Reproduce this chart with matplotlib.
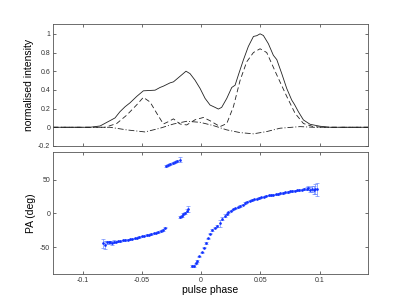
import numpy as np
import matplotlib
matplotlib.use("Agg")
import matplotlib.pyplot as plt

plt.rcParams['font.family'] = ['Liberation Sans', 'DejaVu Sans']

# total intensity (solid)
i_phase = [-0.125, -0.0937, -0.0852, -0.0768, -0.0726, -0.0684, -0.0641, -0.0599, -0.0543,
           -0.0487, -0.0388, -0.0346, -0.0318, -0.0262, -0.0233, -0.0177, -0.0127, -0.0093,
           -0.0051, -0.0008, 0.0034, 0.0076, 0.0118, 0.0146, 0.0174, 0.0217, 0.0259, 0.0287,
           0.0315, 0.0357, 0.0399, 0.0442, 0.047, 0.0498, 0.0526, 0.0568, 0.061, 0.0639,
           0.0681, 0.0723, 0.0765, 0.0788, 0.0821, 0.0864, 0.092, 0.1004, 0.1089, 0.141]
i_val = [0.0, 0.0, 0.014, 0.071, 0.10, 0.167, 0.22, 0.262, 0.33,
         0.39, 0.397, 0.426, 0.44, 0.475, 0.486, 0.546, 0.60, 0.574,
         0.504, 0.415, 0.309, 0.238, 0.213, 0.195, 0.213, 0.309, 0.426, 0.45,
         0.56, 0.72, 0.865, 0.972, 0.98, 1.0, 0.982, 0.894, 0.77, 0.724,
         0.574, 0.415, 0.291, 0.245, 0.167, 0.078, 0.032, 0.011, 0.0, 0.0]

# linear polarisation (dashed)
l_phase = [-0.125, -0.081, -0.0712, -0.0627, -0.0543, -0.0487, -0.043, -0.0374, -0.0318,
           -0.0276, -0.0233, -0.0177, -0.0121, -0.0051, 0.002, 0.0076, 0.016, 0.0217,
           0.0273, 0.0329, 0.0385, 0.0442, 0.0498, 0.0554, 0.0639, 0.0723, 0.0793,
           0.0864, 0.0948, 0.103, 0.141]
l_val = [0.0, 0.0, 0.04, 0.13, 0.24, 0.32, 0.27, 0.15, 0.035,
         0.06, 0.09, 0.035, 0.025, 0.08, 0.105, 0.07, 0.007, 0.04,
         0.22, 0.50, 0.70, 0.80, 0.84, 0.80, 0.56, 0.33, 0.15,
         0.04, 0.007, 0.0, 0.0]

# circular polarisation (dash-dot)
v_phase = [-0.125, -0.0768, -0.0627, -0.0473, -0.0346, -0.0233, -0.0121, -0.0008, 0.0104,
           0.0217, 0.0329, 0.0442, 0.0554, 0.0667, 0.0835, 0.0948, 0.141]
v_val = [0.0, 0.0, -0.028, -0.05, -0.01, 0.035, 0.064, 0.053, 0.018,
         -0.028, -0.057, -0.07, -0.046, -0.01, 0.007, 0.0, 0.0]

# position angle, one list per segment
pa1_phase = [-0.0824, -0.0810, -0.0795, -0.0780, -0.0765, -0.0750, -0.0735, -0.0720, -0.0700,
             -0.0680, -0.0660, -0.0640, -0.0620, -0.0600, -0.0580, -0.0560, -0.0540, -0.0520,
             -0.0500, -0.0480, -0.0460, -0.0440, -0.0420, -0.0400, -0.0380, -0.0360, -0.0340,
             -0.0320, -0.0305]
pa1 = [-44.5, -47, -43, -43, -42.5, -44, -42, -42, -41.5,
       -41, -40.3, -39.6, -39, -38.5, -37.8, -37, -36, -35,
       -34, -33.2, -32.4, -31.5, -30.5, -29.5, -28.5, -27.5, -26.5,
       -25, -21.5]
pa1_err = [7, 6, 2, 2, 2, 3, 2, 1, 1,
           1, 1, 1, 1, 1, 1, 1, 1, 1,
           1, 1, 1, 1, 1, 1, 1, 1, 1,
           1, 1]

pa2_phase = [-0.030, -0.028, -0.026, -0.024, -0.022, -0.020, -0.018]
pa2 = [70, 71.5, 73, 74.5, 76, 77.5, 79.5]
pa2_err = [1, 1, 1, 1, 1, 1.5, 3.5]

pa3_phase = [-0.0177, -0.0163, -0.015, -0.0135, -0.012, -0.0107]
pa3 = [-5, -4, -1, 1, 4, 6.5]
pa3_err = [1.5, 1.5, 1.5, 1.5, 2, 4]

pa4_phase = [-0.0078, -0.0060, -0.0045, -0.0031, -0.0014, 0.0006, 0.0025, 0.0040, 0.0056,
             0.0076, 0.0096, 0.0118, 0.0138, 0.0160, 0.0180, 0.0200, 0.0215, 0.0230,
             0.0250, 0.0270, 0.0290, 0.0310, 0.0330, 0.0350, 0.0370, 0.0390, 0.0410,
             0.0430, 0.0450, 0.0470, 0.0490, 0.0510, 0.0530, 0.0550, 0.0570, 0.0590,
             0.0610, 0.0630, 0.0650, 0.0670, 0.0690, 0.0710, 0.0730, 0.0750, 0.0770,
             0.0790, 0.0810, 0.0830, 0.0850, 0.0870, 0.0890, 0.0905, 0.0920, 0.0935,
             0.0950, 0.0965, 0.0980]
pa4 = [-78, -77.5, -74, -70.5, -64, -57.7, -50.8, -44, -37,
       -30, -24.7, -21.3, -18.3, -14.8, -8, -3.5, -1.5, 1.5,
       4, 5.9, 7.5, 9, 10.8, 13, 15.5, 17.2, 18.5,
       19.5, 20.6, 21.6, 22.5, 23.5, 24.8, 26, 26.6, 27.2,
       27.8, 28.3, 28.8, 29.6, 30.3, 31, 31.8, 32.5, 33,
       33.5, 34, 34.6, 35.2, 35.8, 36.4, 37, 35, 36,
       34, 36, 35.5]
pa4_err = [1.5, 1.5, 1, 1, 1, 1, 1, 1, 1,
           1, 1, 1, 1.5, 5, 2, 2, 1, 1,
           1, 1, 1, 1, 1, 1, 1, 1, 1,
           1, 1, 1, 1, 1, 1, 1, 1, 1,
           1, 1, 1, 1, 1, 1, 1, 1, 1,
           1, 1, 1, 1, 1, 2, 3, 4, 5,
           6, 8, 10]

fig = plt.figure(figsize=(4.07, 3.06), dpi=100)
ax1 = fig.add_axes([0.130, 0.523, 0.774, 0.397])
ax2 = fig.add_axes([0.130, 0.1046, 0.774, 0.399])

ax1.plot(i_phase, i_val, color='#222222', lw=0.6, ls='-')
ax1.plot(l_phase, l_val, color='#222222', lw=0.6, ls='--', dashes=(6, 3.6))
ax1.plot(v_phase, v_val, color='#222222', lw=0.6, ls='-.', dashes=(7, 2.4, 1.2, 2.4))
ax1.set_xlim(-0.125, 0.1408)
ax1.set_ylim(-0.2, 1.1)
ax1.set_yticks([-0.2, 0, 0.2, 0.4, 0.6, 0.8, 1])
ax1.set_yticklabels(['-0.2', '0', '0.2', '0.4', '0.6', '0.8', '1'])
ax1.set_xticks([-0.1, -0.05, 0, 0.05, 0.1])
ax1.set_xticklabels([])
ax1.set_ylabel('normalised intensity', fontsize=7.5, labelpad=3)

for ph, pa, er in [(pa1_phase, pa1, pa1_err), (pa2_phase, pa2, pa2_err),
                   (pa3_phase, pa3, pa3_err), (pa4_phase, pa4, pa4_err)]:
    ax2.errorbar(ph, pa, yerr=er, fmt='.', color='#1030ff', ms=1.8, lw=0.45,
                 capsize=1.6, capthick=0.45, ecolor='#6080ff')
ax2.set_xlim(-0.125, 0.1408)
ax2.set_ylim(-90, 91)
ax2.set_yticks([-50, 0, 50])
ax2.set_yticklabels(['-50', '0', '50'])
ax2.set_xticks([-0.1, -0.05, 0, 0.05, 0.1])
ax2.set_xticklabels(['-0.1', '-0.05', '0', '0.05', '0.1'])
ax2.set_xlabel('pulse phase', fontsize=7.5, labelpad=1)
ax2.set_ylabel('PA (deg)', fontsize=7.5, labelpad=3)

for ax in (ax1, ax2):
    ax.tick_params(direction='in', top=True, right=True, length=2.5, width=0.5,
                   labelsize=5, colors='#333333', pad=2)
    for s in ax.spines.values():
        s.set_linewidth(0.6)
        s.set_color('#555555')

fig.savefig('out.png', dpi=100)
